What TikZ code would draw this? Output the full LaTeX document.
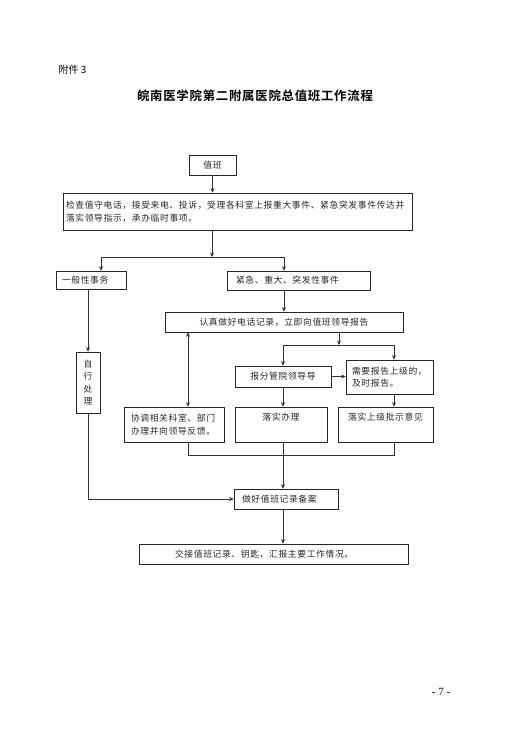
\documentclass[tikz,border=0pt]{standalone}
\usepackage{fontspec}
\setmainfont{Noto Sans CJK SC}
\newfontfamily\bodyfont{Noto Sans CJK SC}[LetterSpace=7]
\newfontfamily\titlefont{Noto Sans CJK SC Bold}[LetterSpace=6]
\newfontfamily\pagefont{Liberation Serif}
\usetikzlibrary{arrows.meta,positioning}

\begin{document}
\begin{tikzpicture}[
        x=1pt, y=-1pt,
        box/.style={
            draw=black!85,
            line width=0.6pt,
            inner sep=3pt,
            text=black!85,
            font=\bodyfont\fontsize{8.8}{12.5}\selectfont
        },
        lbox/.style={
            box,
            align=left
        },
        arr/.style={
            draw=black!80,
            line width=0.6pt,
            -{Stealth[length=4.5pt,width=4pt]}
        },
        darr/.style={
            draw=black!80,
            line width=0.6pt,
            {Stealth[length=4.5pt,width=4pt]}-{Stealth[length=4.5pt,width=4pt]}
        },
        link/.style={
            draw=black!80,
            line width=0.6pt
        }
    ]
        \useasboundingbox (0,0) rectangle (517,733);

        % heading
        \node[anchor=west, font=\fontsize{10}{12}\selectfont] (annex) at (55,70) {附件 3};
        \node[font=\titlefont\fontsize{12.4}{15}\selectfont] (title) at (255,96) {皖南医学院第二附属医院总值班工作流程};

        % boxes
        \node[box, minimum width=47pt, minimum height=20pt] (duty) at (212.5,165) {值班};
        \node[lbox, text width=343pt, inner xsep=3pt, minimum height=37pt] (check) at (237.5,211.5)
            {检查值守电话，接受来电、投诉，受理各科室上报重大事件、紧急突发事件传达并\\落实领导指示，承办临时事项。};
        \node[lbox, text width=58pt, inner xsep=6pt, minimum height=18pt] (general) at (91,280) {一般性事务};
        \node[lbox, text width=125pt, inner xsep=9pt, minimum height=19pt] (urgent) at (298.5,280.5) {紧急、重大、突发性事件};
        \node[box, minimum width=238pt, minimum height=20pt] (record) at (284,322) {认真做好电话记录，立即向值班领导报告};
        \node[box, align=center, minimum width=24pt, minimum height=61pt] (self) at (88,382.5) {自\\行\\处\\理};
        \node[box, minimum width=96pt, minimum height=21pt] (report) at (283,376.5) {报分管院领导导};
        \node[lbox, text width=75pt, inner xsep=6pt, minimum height=34pt] (upper) at (389.5,377) {需要报告上级的，\\及时报告。};
        \node[lbox, text width=86pt, inner xsep=7pt, minimum height=35pt] (coord) at (174,424.5) {协调相关科室、部门\\办理并向领导反馈。};
        \node[box, minimum width=92pt, minimum height=35pt, text depth=16pt] (handle) at (281,424.5) {落实办理};
        \node[box, minimum width=95pt, minimum height=35pt, text depth=16pt] (instr) at (385.5,424.5) {落实上级批示意见};
        \node[lbox, text width=88pt, inner xsep=8pt, minimum height=20pt] (file) at (286,499) {做好值班记录备案};
        \node[lbox, text width=197pt, inner xsep=36pt, minimum height=20pt] (handover) at (273.5,554) {交接值班记录、钥匙，汇报主要工作情况。};

        \node[font=\pagefont\fontsize{11}{13}\selectfont] (page) at (441,692) {- 7 -};

        % junctions
        \coordinate (j1) at (212,257);
        \coordinate (j1l) at (101,257);
        \coordinate (j1r) at (284,257);
        \coordinate (j2) at (339,345);
        \coordinate (j2l) at (283,345);
        \coordinate (j2r) at (394,345);
        \coordinate (j3l) at (188,455);
        \coordinate (j3m) at (283,455);
        \coordinate (j3r) at (394,455);

        % connectors
        \draw[arr] (duty.south) -- (duty.south |- check.north);
        \draw[arr] (check.south -| j1) -- (j1);
        \draw[link] (j1l) -- (j1r);
        \draw[arr] (j1l) -- (j1l |- general.north);
        \draw[arr] (j1r) -- (j1r |- urgent.north);
        \draw[arr] (urgent.south -| j1r) -- (j1r |- record.north);
        \draw[arr] (general.south -| self) -- (self.north);
        \draw[darr] (record.south -| j3l) -- (j3l |- coord.north);
        \draw[arr] (record.south -| j2) -- (j2);
        \draw[link] (j2l) -- (j2r);
        \draw[arr] (j2l) -- (j2l |- report.north);
        \draw[arr] (j2r) -- (j2r |- upper.north);
        \draw[arr] (report.east) -- (report.east -| upper.west);
        \draw[arr] (report.south -| j2l) -- (j2l |- handle.north);
        \draw[arr] (upper.south -| j2r) -- (j2r |- instr.north);
        \draw[link] (coord.south -| j3l) -- (j3l) -- (j3r) -- (instr.south -| j3r);
        \draw[link] (handle.south -| j3m) -- (j3m);
        \draw[arr] (j3m) -- (j3m |- file.north);
        \draw[arr] (self.south) |- (file.west);
        \draw[arr] (file.south -| j3m) -- (j3m |- handover.north);
    \end{tikzpicture}
\end{document}
